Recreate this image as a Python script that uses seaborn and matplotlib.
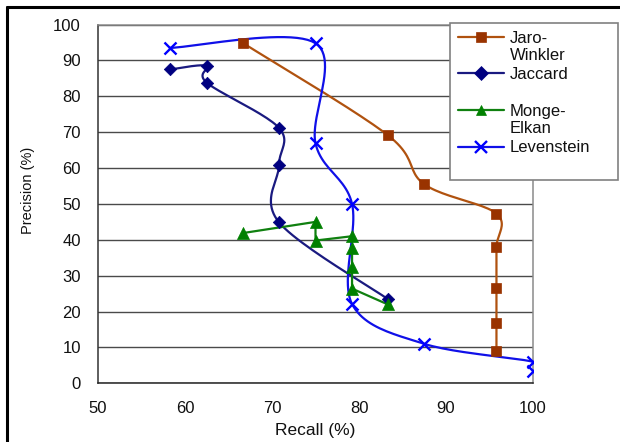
import numpy as np
import pandas as pd
import matplotlib
matplotlib.use("Agg")
import matplotlib.pyplot as plt
import seaborn as sns
from matplotlib.lines import Line2D
from matplotlib.legend_handler import HandlerLine2D

# ---- data ----
jw_recall = [66.7, 83.3, 87.5, 95.8, 95.8, 95.8, 95.8, 95.8]
jw_prec = [94.8, 69.2, 55.5, 47.3, 38.0, 26.5, 16.8, 9.0]

jac_recall = [58.3, 62.5, 62.5, 70.8, 70.8, 70.8, 83.3]
jac_prec = [87.5, 88.5, 83.8, 71.2, 60.8, 44.9, 23.5]

me_recall = [66.7, 75.0, 75.0, 79.2, 79.2, 79.2, 79.2, 83.3]
me_prec = [41.9, 45.0, 39.8, 41.0, 37.8, 32.3, 26.4, 22.0]

lev_recall = [58.3, 75.0, 75.0, 79.2, 79.2, 87.5, 100.0, 100.0]
lev_prec = [93.5, 94.8, 66.9, 50.0, 22.1, 11.0, 6.0, 3.5]

series_names = ["Jaro-\nWinkler", "Jaccard\n ", "Monge-\nElkan", "Levenstein\n "]
x_ticks = [50, 60, 70, 80, 90, 100]
y_ticks = [0, 10, 20, 30, 40, 50, 60, 70, 80, 90, 100]

sns.set_style("white")
plt.rcParams["font.family"] = ["Liberation Sans", "DejaVu Sans"]

W, H = 620, 442
fig = plt.figure(figsize=(W / 100, H / 100), dpi=100)
ax = fig.add_axes([98 / W, 1 - 383.3 / H, (533 - 98) / W, (383.3 - 24.6) / H])


def smooth(xs, ys, sx=8.7, sy=3.59, n=24):
    """Excel-like smoothed line (Catmull-Rom Bezier) through the data points."""
    P = np.column_stack([np.asarray(xs, float) * sx, np.asarray(ys, float) * sy])
    m = len(P)
    out = [P[0]]
    t = np.linspace(0, 1, n)[1:]
    for i in range(m - 1):
        p0 = P[i]
        p3 = P[i + 1]
        pm = P[i - 1] if i > 0 else P[i]
        pp = P[i + 2] if i + 2 < m else P[i + 1]
        c1 = p0 + (p3 - pm) / 6.0
        c2 = p3 - (pp - p0) / 6.0
        for tt in t:
            b = ((1 - tt) ** 3) * p0 + 3 * ((1 - tt) ** 2) * tt * c1 + 3 * (1 - tt) * tt ** 2 * c2 + tt ** 3 * p3
            out.append(b)
    out = np.array(out)
    return out[:, 0] / sx, out[:, 1] / sy


specs = [
    (jw_recall, jw_prec, "#B0520F", "#993300", "s", 50, True),
    (jac_recall, jac_prec, "#1A1A80", "#000080", "D", 40, True),
    (me_recall, me_prec, "#108010", "#008000", "^", 75, False),
    (lev_recall, lev_prec, "#1010E8", "#0000FF", "x", 75, True),
]

handles = []
for (xs, ys, lc, mc, mk, ms, sm), name in zip(specs, series_names):
    if sm:
        cx, cy = smooth(xs, ys)
    else:
        cx, cy = np.asarray(xs, float), np.asarray(ys, float)
    sns.lineplot(x=cx, y=cy, sort=False, estimator=None, color=lc, lw=1.6, ax=ax, zorder=3)
    if mk == "x":
        sns.scatterplot(x=xs, y=ys, marker="x", s=ms, color=mc, linewidth=1.7, ax=ax, zorder=4)
    else:
        sns.scatterplot(x=xs, y=ys, marker=mk, s=ms, color=mc, edgecolor=mc, linewidth=0.5, ax=ax, zorder=4)
    handles.append(Line2D([], [], color=lc, lw=1.6, marker=mk, markersize=7 if mk != "x" else 8,
                          markerfacecolor=mc, markeredgecolor=mc, markeredgewidth=1.7 if mk == "x" else 0.5))

ax.set_xlim(50, 100)
ax.set_ylim(0, 100)
ax.set_xticks(x_ticks)
ax.set_yticks(y_ticks)
ax.set_xticklabels([str(v) for v in x_ticks], fontsize=12, color="#111111")
ax.set_yticklabels([str(v) for v in y_ticks], fontsize=12, color="#111111")
ax.tick_params(axis="y", direction="out", length=5.8, width=1, color="#333333", pad=6.5)
ax.tick_params(axis="x", direction="out", length=3.6, width=1, color="#333333", pad=9.0)
ax.yaxis.grid(True, color="#4a4a4a", lw=1.0)
ax.xaxis.grid(False)
ax.set_axisbelow(True)
for side, col in [("left", "#333333"), ("bottom", "#222222"), ("right", "#8a8a8a"), ("top", "#8a8a8a")]:
    ax.spines[side].set_visible(True)
    ax.spines[side].set_color(col)
    ax.spines[side].set_linewidth(1.1)

ax.set_xlabel("Recall (%)", fontsize=12.5, color="#111111")
ax.set_ylabel("Precision (%)", fontsize=10.5, color="#111111")
ax.xaxis.set_label_coords((315 - 98) / 435, (383.3 - 423) / 358.7)
ax.yaxis.set_label_coords((35 - 98) / 435, (383.3 - 190) / 358.7)


class TopHandler(HandlerLine2D):
    def create_artists(self, legend, orig_handle, xdescent, ydescent, width, height, fontsize, trans):
        arts = super().create_artists(legend, orig_handle, xdescent, ydescent, width, height, fontsize, trans)
        for a in arts:
            a.set_ydata(np.asarray(a.get_ydata(), float) + 0.6 * fontsize)
        return arts


leg = fig.legend(handles, series_names, loc="upper left",
                 bbox_to_anchor=(450 / W, 1 - 182 / H, 168 / W, 159 / H), mode="expand",
                 borderaxespad=0, fontsize=12, frameon=True, fancybox=False, framealpha=1,
                 edgecolor="#808080", handlelength=2.8, handletextpad=0.35,
                 labelspacing=0.25, borderpad=0.45,
                 handler_map={h: TopHandler() for h in handles})
leg.get_frame().set_linewidth(1.2)
for t in leg.get_texts():
    t.set_color("#111111")

# outer frame (top and left edges)
fig.add_artist(Line2D([7 / W, 1], [1 - 7 / H, 1 - 7 / H], transform=fig.transFigure, color="black", lw=2.2))
fig.add_artist(Line2D([7 / W, 7 / W], [0, 1 - 7 / H], transform=fig.transFigure, color="black", lw=2.2))

fig.savefig("out.png", dpi=100)
